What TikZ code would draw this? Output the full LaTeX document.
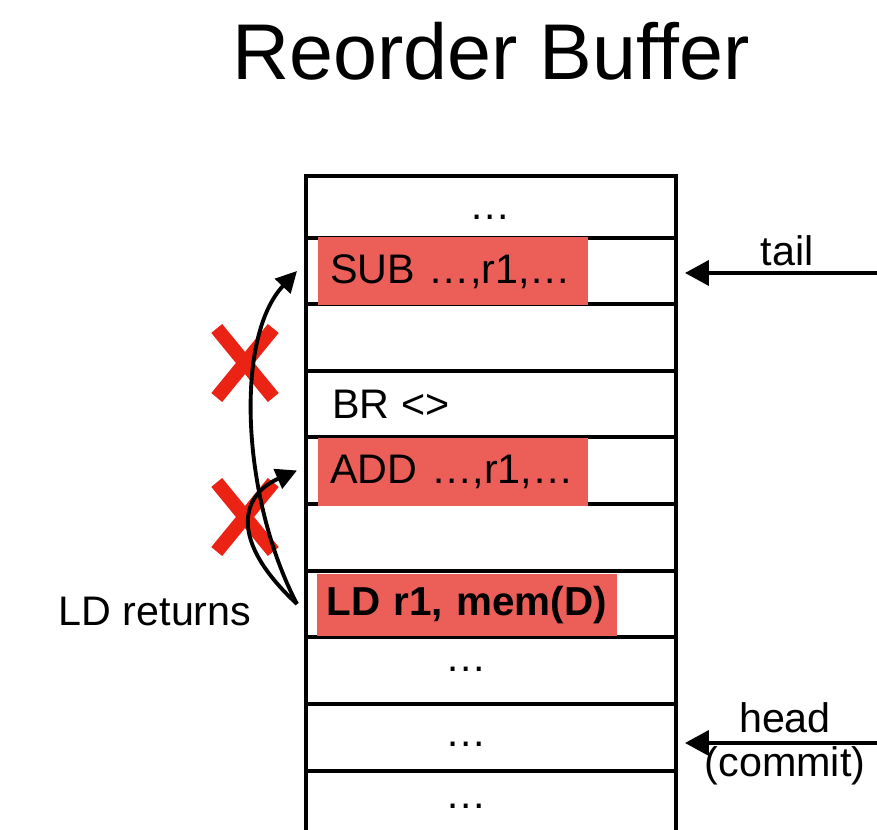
\documentclass[tikz,border=0pt]{standalone}
\usepackage{fontspec}
\setmainfont{Liberation Sans}
\usepackage{xcolor}
\usetikzlibrary{arrows.meta,shapes.misc}
\definecolor{RojoInstr}{RGB}{236,94,88}
\definecolor{RojoCruz}{RGB}{235,35,20}

\tikzset{
  slot/.style={draw,line width=2.3pt,minimum width=7.4cm,inner sep=0pt},
  instr/.style={fill=RojoInstr,anchor=west,inner xsep=0.24cm,inner ysep=0pt,
    minimum height=1.36cm,align=left,font=\fontsize{23.5}{28}\selectfont},
  lbl/.style={font=\fontsize{23.5}{28}\selectfont},
  nope/.style={cross out,draw=RojoCruz,line width=8pt,minimum width=0.85cm,
    minimum height=1.1cm,inner sep=0pt},
  ptr/.style={-{Triangle[length=0.48cm,width=0.5cm]},line width=2.2pt},
  ret/.style={-{Triangle[length=0.42cm,width=0.42cm]},line width=2.2pt},
}

\begin{document}
\begin{tikzpicture}[x=0.02cm,y=-0.02cm]
  \useasboundingbox (0,0) rectangle (877,830);

  % Titulo
  \node[font=\fontsize{45}{54}\selectfont,anchor=base] (titulo) at (491,80) {Reorder Buffer};

  % Entradas del buffer
  \foreach \i/\t/\b in {1/176/238,2/238/304,3/304/371,4/371/437,5/437/504,
                        6/504/571,7/571/637,8/637/704,9/704/771,10/771/838}{
    \pgfmathsetmacro\alto{(\b-\t)*0.02}
    \node[slot,minimum height=\alto cm] (s\i) at (491,{(\t+\b)/2}) {};
  }

  % Instrucciones
  \node[instr,text width=4.92cm] (sub) at (318,271.5) {SUB …,r1,…};
  \node[instr,text width=4.92cm] (add) at (318,472) {ADD …,r1,…};
  \node[instr,text width=5.64cm,inner xsep=0.18cm,minimum height=1.24cm,
    font=\fontsize{23}{28}\selectfont\bfseries] (ld) at (317,605) {LD r1, mem(D)};
  \node[lbl,anchor=west,inner sep=0pt] (br) at (332,404) {BR <>};
  \node[lbl] (d1) at (490,217) {…};
  \node[lbl] (d8) at (466,669) {…};
  \node[lbl] (d9) at (466,744) {…};
  \node[lbl] (d10) at (466,806) {…};

  % Punteros
  \coordinate (tailsrc) at (877,273);
  \coordinate (headsrc) at (877,743);
  \draw[ptr] (tailsrc) -- ([xshift=0.14cm]s2.east |- tailsrc);
  \draw[ptr] (headsrc) -- ([xshift=0.14cm]s9.east |- headsrc);
  \node[lbl,anchor=base] (tailtxt) at (787,266) {tail};
  \node[lbl,anchor=base] (headtxt) at (785,733) {head};
  \node[lbl,anchor=base] (committxt) at (785,777) {(commit)};

  % Reenvio del LD
  \node[nope] (x1) at (245,363) {};
  \node[nope] (x2) at (245,517) {};
  \draw[ret] ([xshift=-4pt]s7.west) .. controls +(-55,-105) and +(-63,67) .. ([xshift=-4pt]s2.west);
  \draw[ret] ([xshift=-4pt]s7.west) .. controls +(-70,-65) and +(-55,24) .. ([xshift=-4pt]s5.west);
  \node[lbl] (ldret) at (155,612) {LD returns};
\end{tikzpicture}
\end{document}
